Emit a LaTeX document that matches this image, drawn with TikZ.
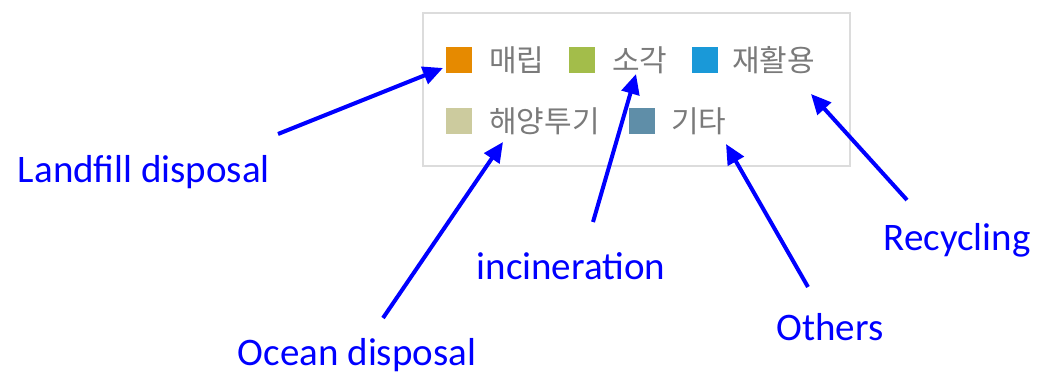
\documentclass[tikz,border=0pt]{standalone}
\usepackage{fontspec}
\setmainfont{Carlito}
\newfontfamily\kr{Noto Sans CJK KR}
\usetikzlibrary{arrows.meta}
\definecolor{cLand}{HTML}{E68A00}
\definecolor{cInc}{HTML}{A3BD4A}
\definecolor{cRec}{HTML}{1A99D8}
\definecolor{cOcean}{HTML}{CCCB9E}
\definecolor{cOth}{HTML}{5F8EA8}
\definecolor{kgray}{HTML}{7A7A7A}
\definecolor{boxgray}{HTML}{DCDCDC}
\definecolor{arrblue}{HTML}{0000FF}
\tikzset{
  sq/.style={minimum size=26pt, inner sep=0pt, draw=none},
  kt/.style={font=\kr\fontsize{30}{32}\selectfont, text=kgray, anchor=west, inner sep=0pt},
  lab/.style={font=\fontsize{39}{44}\selectfont, text=arrblue, inner sep=0pt},
  arr/.style={draw=arrblue, line width=4pt, -{Triangle[length=20pt,width=18pt]}}
}
\begin{document}
\begin{tikzpicture}[x=1pt,y=-1pt]
\useasboundingbox (0,0) rectangle (1046,382);
\draw[boxgray, line width=2pt] (423,13) rectangle (850,166);
% row 1
\node[sq, fill=cLand] (sLand) at (458.5,60) {};
\node[kt] (tLand) at (489,60) {매립};
\node[sq, fill=cInc] (sInc) at (582,60) {};
\node[kt] (tInc) at (612,60) {소각};
\node[sq, fill=cRec] (sRec) at (705,60) {};
\node[kt] (tRec) at (732,60) {재활용};
% row 2
\node[sq, fill=cOcean] (sOcean) at (458.5,121) {};
\node[kt] (tOcean) at (489,121) {해양투기};
\node[sq, fill=cOth] (sOth) at (641.5,121) {};
\node[kt] (tOth) at (671,121) {기타};
% labels
\node[lab] (lLand) at (144,172) {Landfill disposal};
\node[lab] (lOcean) at (357,355) {Ocean disposal};
\node[lab] (lInc) at (571,266) {incineration};
\node[lab] (lOth) at (830,327) {Others};
\node[lab] (lRec) at (957,240) {Recycling};
% arrow ends
\coordinate (aLand0) at (278,134);
\coordinate (aLand1) at (443,68);
\coordinate (aOcean0) at (383,318);
\coordinate (aOcean1) at (503,142);
\coordinate (aInc0) at (593,222);
\coordinate (aInc1) at (636,74);
\coordinate (aOth0) at (808,287);
\coordinate (aOth1) at (726,144);
\coordinate (aRec0) at (907,200);
\coordinate (aRec1) at (811,94);
\draw[arr] (aLand0) -- (aLand1);
\draw[arr] (aOcean0) -- (aOcean1);
\draw[arr] (aInc0) -- (aInc1);
\draw[arr] (aOth0) -- (aOth1);
\draw[arr] (aRec0) -- (aRec1);
\end{tikzpicture}
\end{document}
